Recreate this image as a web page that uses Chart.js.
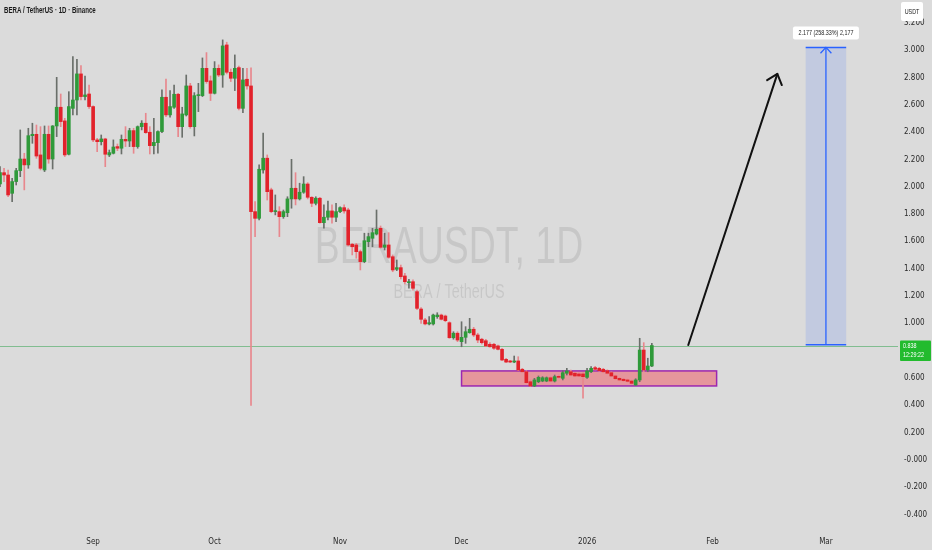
<!DOCTYPE html>
<html>
<head>
<meta charset="utf-8">
<script src="https://cdn.jsdelivr.net/npm/chart.js@4.4.1/dist/chart.umd.min.js"></script>
<style>
  html, body { margin: 0; padding: 0; background: #dbdbdb; }
  canvas { display: block; }
</style>
</head>
<body>
<canvas id="grafico" width="932" height="550"></canvas>
<script>
// dia 0 = 1 sep 2025, la primera vela es el 9 de agosto
const firstDay = -23;

const opens = [
  2.020, 2.103, 2.086, 1.952, 2.038, 2.118, 2.203, 2.160, 2.374, 2.384,
  2.233, 2.123, 2.384, 2.203, 2.445, 2.582, 2.482, 2.238, 2.574, 2.635,
  2.826, 2.660, 2.679, 2.587, 2.343, 2.330, 2.350, 2.233, 2.245, 2.294,
  2.282, 2.347, 2.335, 2.411, 2.294, 2.440, 2.465, 2.399, 2.301, 2.323,
  2.404, 2.655, 2.526, 2.582, 2.677, 2.440, 2.526, 2.738, 2.440, 2.667,
  2.667, 2.867, 2.775, 2.684, 2.867, 2.818, 3.038, 2.838, 2.794, 2.872,
  2.574, 2.787, 2.738, 1.818, 1.769, 2.123, 2.209, 1.977, 1.818, 1.818,
  1.781, 1.810, 1.911, 1.989, 1.911, 1.960, 2.020, 1.923, 1.879, 1.916,
  1.737, 1.777, 1.823, 1.777, 1.818, 1.847, 1.830, 1.579, 1.574, 1.525,
  1.452, 1.598, 1.623, 1.654, 1.696, 1.557, 1.574, 1.488, 1.396, 1.408,
  1.347, 1.298, 1.305, 1.232, 1.105, 1.025, 0.996, 0.996, 1.049, 1.061,
  1.054, 1.005, 0.895, 0.928, 0.866, 0.898, 0.932, 0.957, 0.915, 0.884,
  0.873, 0.847, 0.847, 0.835, 0.810, 0.737, 0.725, 0.717, 0.725, 0.664,
  0.646, 0.573, 0.542, 0.573, 0.578, 0.578, 0.602, 0.578, 0.612, 0.598,
  0.635, 0.646, 0.635, 0.630, 0.630, 0.605, 0.646, 0.676, 0.671, 0.664,
  0.654, 0.639, 0.615, 0.598, 0.591, 0.586, 0.578, 0.549, 0.586, 0.805,
  0.659, 0.688
];
const highs = [
  2.147, 2.135, 2.123, 2.062, 2.135, 2.416, 2.245, 2.428, 2.465, 2.452,
  2.440, 2.445, 2.445, 2.448, 2.801, 2.679, 2.501, 2.696, 2.953, 2.933,
  2.887, 2.811, 2.745, 2.592, 2.355, 2.379, 2.355, 2.269, 2.343, 2.313,
  2.379, 2.440, 2.428, 2.428, 2.445, 2.484, 2.538, 2.440, 2.501, 2.409,
  2.709, 2.789, 2.704, 2.745, 2.684, 2.582, 2.818, 2.757, 2.689, 2.757,
  2.943, 2.982, 2.811, 2.916, 2.892, 3.075, 3.058, 2.862, 2.965, 2.884,
  2.867, 2.867, 2.870, 1.891, 2.160, 2.392, 2.233, 1.990, 1.940, 1.854,
  1.830, 1.927, 2.201, 2.103, 2.026, 2.074, 2.030, 1.927, 1.927, 1.923,
  1.867, 1.896, 1.867, 1.879, 1.854, 1.867, 1.843, 1.586, 1.586, 1.537,
  1.660, 1.660, 1.696, 1.830, 1.713, 1.660, 1.664, 1.501, 1.464, 1.427,
  1.367, 1.323, 1.318, 1.244, 1.115, 1.037, 1.049, 1.068, 1.078, 1.068,
  1.061, 1.012, 0.939, 0.939, 1.012, 0.976, 1.037, 0.971, 0.928, 0.891,
  0.884, 0.859, 0.854, 0.842, 0.818, 0.745, 0.730, 0.761, 0.756, 0.671,
  0.654, 0.586, 0.598, 0.615, 0.610, 0.608, 0.610, 0.622, 0.622, 0.654,
  0.671, 0.659, 0.642, 0.640, 0.639, 0.671, 0.683, 0.685, 0.678, 0.671,
  0.660, 0.645, 0.622, 0.605, 0.598, 0.592, 0.585, 0.595, 0.891, 0.859,
  0.745, 0.854
];
const lows = [
  2.001, 2.038, 1.928, 1.891, 2.013, 2.074, 1.977, 2.135, 2.318, 2.208,
  2.123, 2.111, 2.172, 2.130, 2.367, 2.440, 2.221, 2.233, 2.526, 2.526,
  2.635, 2.635, 2.574, 2.330, 2.257, 2.306, 2.147, 2.221, 2.240, 2.264,
  2.240, 2.294, 2.294, 2.245, 2.282, 2.416, 2.391, 2.240, 2.240, 2.245,
  2.396, 2.513, 2.509, 2.574, 2.367, 2.362, 2.518, 2.428, 2.372, 2.550,
  2.660, 2.757, 2.631, 2.679, 2.806, 2.728, 2.826, 2.770, 2.704, 2.562,
  2.543, 2.714, 0.400, 1.635, 1.757, 2.100, 1.903, 1.810, 1.794, 1.635,
  1.769, 1.781, 1.843, 1.867, 1.903, 1.952, 1.911, 1.854, 1.867, 1.733,
  1.696, 1.757, 1.733, 1.745, 1.810, 1.806, 1.567, 1.501, 1.477, 1.391,
  1.444, 1.561, 1.561, 1.647, 1.550, 1.537, 1.477, 1.378, 1.386, 1.325,
  1.288, 1.257, 1.244, 1.100, 1.000, 0.988, 0.988, 0.988, 1.037, 1.025,
  1.012, 0.891, 0.884, 0.866, 0.829, 0.854, 0.928, 0.903, 0.859, 0.849,
  0.829, 0.825, 0.810, 0.805, 0.727, 0.712, 0.712, 0.712, 0.654, 0.644,
  0.561, 0.537, 0.537, 0.566, 0.573, 0.573, 0.573, 0.571, 0.598, 0.586,
  0.622, 0.615, 0.610, 0.610, 0.452, 0.598, 0.639, 0.660, 0.650, 0.640,
  0.630, 0.610, 0.590, 0.580, 0.575, 0.570, 0.555, 0.545, 0.573, 0.646,
  0.646, 0.683
];
const closes = [
  2.103, 2.086, 1.940, 2.038, 2.118, 2.203, 2.160, 2.374, 2.384, 2.225,
  2.135, 2.384, 2.203, 2.445, 2.582, 2.477, 2.233, 2.587, 2.635, 2.826,
  2.660, 2.672, 2.587, 2.343, 2.330, 2.350, 2.238, 2.250, 2.291, 2.282,
  2.347, 2.335, 2.411, 2.294, 2.440, 2.465, 2.396, 2.301, 2.325, 2.404,
  2.655, 2.526, 2.587, 2.677, 2.440, 2.533, 2.738, 2.440, 2.667, 2.672,
  2.867, 2.770, 2.684, 2.867, 2.818, 3.031, 2.838, 2.794, 2.867, 2.574,
  2.782, 2.738, 1.818, 1.769, 2.128, 2.209, 1.964, 1.818, 1.825, 1.781,
  1.818, 1.911, 1.989, 1.911, 1.960, 2.020, 1.923, 1.879, 1.916, 1.737,
  1.777, 1.823, 1.777, 1.818, 1.847, 1.823, 1.574, 1.561, 1.525, 1.452,
  1.605, 1.635, 1.664, 1.689, 1.557, 1.574, 1.484, 1.391, 1.408, 1.342,
  1.305, 1.305, 1.257, 1.110, 1.030, 0.996, 1.005, 1.061, 1.061, 1.030,
  1.020, 0.895, 0.928, 0.878, 0.898, 0.939, 0.957, 0.915, 0.878, 0.859,
  0.835, 0.829, 0.818, 0.810, 0.732, 0.717, 0.717, 0.725, 0.659, 0.646,
  0.566, 0.542, 0.586, 0.605, 0.602, 0.602, 0.578, 0.610, 0.605, 0.639,
  0.652, 0.622, 0.615, 0.615, 0.610, 0.652, 0.671, 0.664, 0.654, 0.646,
  0.635, 0.615, 0.595, 0.586, 0.581, 0.576, 0.561, 0.586, 0.805, 0.659,
  0.688, 0.838
];

const monthDays = [0, 30, 61, 91, 122, 153, 181];
const monthLabels = ["Sep", "Oct", "Nov", "Dec", "2026", "Feb", "Mar"];
const priceTicks = [-0.4, -0.2, 0, 0.2, 0.4, 0.6, 0.8, 1.0, 1.2, 1.4, 1.6, 1.8, 2.0, 2.2, 2.4, 2.6, 2.8, 3.0, 3.2];
const priceTickLabels = ["-0.400", "-0.200", "-0.000", "0.200", "0.400", "0.600", "", "1.000", "1.200", "1.400",
  "1.600", "1.800", "2.000", "2.200", "2.400", "2.600", "2.800", "3.000", "3.200"];

const lastPrice = 0.838;
const countdown = "12:29:22";
const zoneDays = [91, 154];
const zoneRange = [0.542, 0.652];
const targetDays = [176, 186];
const targetRange = [0.843, 3.02];
const targetText = "2.177 (258.33%) 2,177";
const arrowDays = [147, 169];
const arrowValues = [0.842, 2.826];

const days = opens.map((_, i) => firstDay + i);
const subio = closes.map((c, i) => c >= opens[i]);

const wickData = days.map((d, i) => ({ x: d, y: [lows[i], highs[i]] }));
const bodyData = days.map((d, i) => ({ x: d, y: [opens[i], closes[i]] }));

const fuente = "'Liberation Sans Narrow','DejaVu Sans Condensed','Liberation Sans',Arial,sans-serif";

// texto "apretado" como en la captura
function textoAngosto(ctx, txt, x, y, size, color, align, peso) {
  ctx.save();
  ctx.translate(x, y);
  ctx.scale(0.72, 1);
  ctx.font = (peso || "normal") + " " + size + "px 'Liberation Sans', Arial, sans-serif";
  ctx.fillStyle = color;
  ctx.textAlign = align || "left";
  ctx.textBaseline = "middle";
  ctx.fillText(txt, 0, 0);
  ctx.restore();
}

function flecha(ctx, x1, y1, x2, y2, largo, abre) {
  ctx.beginPath();
  ctx.moveTo(x1, y1);
  ctx.lineTo(x2, y2);
  ctx.stroke();
  const ang = Math.atan2(y1 - y2, x1 - x2);
  ctx.beginPath();
  ctx.moveTo(x2 + largo * Math.cos(ang + abre), y2 + largo * Math.sin(ang + abre));
  ctx.lineTo(x2, y2);
  ctx.lineTo(x2 + largo * Math.cos(ang - abre), y2 + largo * Math.sin(ang - abre));
  ctx.stroke();
}

function cajita(ctx, x, y, w, h, r, color) {
  ctx.fillStyle = color;
  ctx.beginPath();
  ctx.roundRect(x, y, w, h, r);
  ctx.fill();
}

const dibujos = {
  id: "dibujos",
  beforeDraw(chart) {
    const { ctx, width, height } = chart;
    ctx.save();
    ctx.fillStyle = "#dbdbdb";
    ctx.fillRect(0, 0, width, height);
    ctx.restore();
  },
  beforeDatasetsDraw(chart) {
    const { ctx, chartArea: a, scales: { x, y } } = chart;
    ctx.save();
    const cx = (a.left + a.right) / 2;
    textoAngosto(ctx, "BERAUSDT, 1D", cx, a.top + 249, 52, "rgba(0,0,0,0.09)", "center");
    textoAngosto(ctx, "BERA / TetherUS", cx, a.top + 292, 20, "rgba(0,0,0,0.09)", "center");

    // linea del precio actual
    const yp = Math.round(y.getPixelForValue(lastPrice)) + 0.5;
    ctx.strokeStyle = "rgba(40,160,70,0.5)";
    ctx.lineWidth = 1;
    ctx.beginPath();
    ctx.moveTo(a.left, yp);
    ctx.lineTo(a.right, yp);
    ctx.stroke();

    // zona de acumulacion
    const zx1 = x.getPixelForValue(zoneDays[0]);
    const zx2 = x.getPixelForValue(zoneDays[1]);
    const zy1 = y.getPixelForValue(zoneRange[1]);
    const zy2 = y.getPixelForValue(zoneRange[0]);
    ctx.fillStyle = "rgba(242,54,69,0.42)";
    ctx.fillRect(zx1, zy1, zx2 - zx1, zy2 - zy1);
    ctx.strokeStyle = "#9c27b0";
    ctx.lineWidth = 1.5;
    ctx.strokeRect(zx1, zy1, zx2 - zx1, zy2 - zy1);
    ctx.restore();
  },
  afterDatasetsDraw(chart) {
    const { ctx, scales: { x, y } } = chart;
    ctx.save();
    // caja objetivo
    const bx1 = x.getPixelForValue(targetDays[0]);
    const bx2 = x.getPixelForValue(targetDays[1]);
    const bm = (bx1 + bx2) / 2;
    const by1 = y.getPixelForValue(targetRange[1]);
    const by2 = y.getPixelForValue(targetRange[0]);
    ctx.fillStyle = "rgba(41,98,255,0.14)";
    ctx.fillRect(bx1, by1, bx2 - bx1, by2 - by1);
    ctx.strokeStyle = "#2962ff";
    ctx.lineWidth = 1.5;
    ctx.beginPath();
    ctx.moveTo(bx1, by1); ctx.lineTo(bx2, by1);
    ctx.moveTo(bx1, by2); ctx.lineTo(bx2, by2);
    ctx.stroke();
    ctx.lineWidth = 1.3;
    flecha(ctx, bm, by2, bm, by1, 8, 0.75);

    cajita(ctx, bm - 33, by1 - 21, 66, 13, 2, "#ffffff");
    textoAngosto(ctx, targetText, bm, by1 - 14.5, 7.5, "#222", "center");

    // flecha negra
    ctx.strokeStyle = "#111";
    ctx.lineWidth = 2;
    ctx.lineCap = "round";
    ctx.lineJoin = "round";
    flecha(ctx, x.getPixelForValue(arrowDays[0]), y.getPixelForValue(arrowValues[0]),
      x.getPixelForValue(arrowDays[1]), y.getPixelForValue(arrowValues[1]), 12, 0.7);
    ctx.restore();
  },
  afterDraw(chart) {
    const { ctx, scales: { y } } = chart;
    ctx.save();
    textoAngosto(ctx, "BERA / TetherUS · 1D · Binance", 4, 11, 8.5, "#1a1a1a", "left", "bold");

    cajita(ctx, 901, 2, 22, 19, 2, "#ffffff");
    textoAngosto(ctx, "USDT", 912, 11.5, 7.5, "#222", "center");

    const yp = y.getPixelForValue(lastPrice);
    cajita(ctx, 900, yp - 5, 31, 20.5, 1, "#22bb2e");
    textoAngosto(ctx, lastPrice.toFixed(3), 903, yp + 0.5, 7.5, "#ffffff");
    textoAngosto(ctx, countdown, 903, yp + 9.5, 7.5, "#ffffff");
    ctx.restore();
  }
};

new Chart(document.getElementById("grafico"), {
  type: "bar",
  data: {
    datasets: [
      {
        label: "mechas",
        data: wickData,
        backgroundColor: subio.map((u) => (u ? "#6a6f6a" : "#e8878d")),
        barThickness: 1,
        grouped: false,
        order: 2
      },
      {
        label: "cuerpos",
        data: bodyData,
        backgroundColor: subio.map((u) => (u ? "#2f9a3a" : "#e2222b")),
        barThickness: 3,
        minBarLength: 1,
        grouped: false,
        order: 1
      }
    ]
  },
  options: {
    responsive: false,
    animation: false,
    devicePixelRatio: 1,
    layout: { padding: 0 },
    plugins: { legend: { display: false }, tooltip: { enabled: false } },
    scales: {
      x: {
        type: "linear",
        min: -23,
        max: 198.8,
        offset: false,
        grid: { display: false, drawTicks: false },
        border: { display: false },
        afterBuildTicks: (s) => { s.ticks = monthDays.map((v) => ({ value: v })); },
        afterFit: (s) => { s.height = 18; s.paddingLeft = 0; s.paddingRight = 0; },
        ticks: {
          autoSkip: false,
          maxRotation: 0,
          padding: 5,
          color: "#2a2a2a",
          font: { family: fuente, size: 8 },
          callback: (v) => monthLabels[monthDays.indexOf(v)] || ""
        }
      },
      y: {
        position: "right",
        min: -0.527,
        max: 3.367,
        grid: { display: false, drawTicks: false },
        border: { display: false },
        afterBuildTicks: (s) => { s.ticks = priceTicks.map((v) => ({ value: v })); },
        afterFit: (s) => { s.width = 34; s.paddingTop = 0; s.paddingBottom = 0; },
        ticks: {
          autoSkip: false,
          padding: 6,
          color: "#2a2a2a",
          font: { family: fuente, size: 8 },
          callback: (v) => {
            const i = priceTicks.findIndex((t) => Math.abs(t - v) < 1e-6);
            return i >= 0 ? priceTickLabels[i] : "";
          }
        }
      }
    }
  },
  plugins: [dibujos]
});
</script>
</body>
</html>
